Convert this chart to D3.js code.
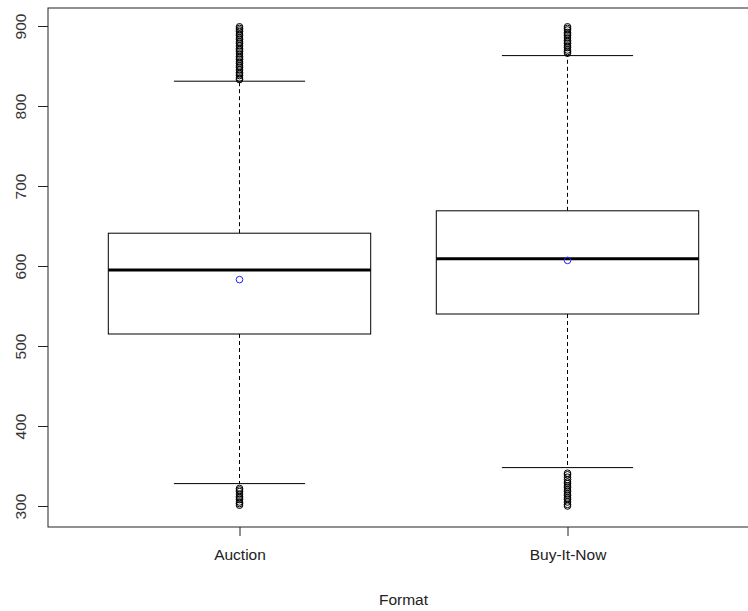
<!DOCTYPE html>
<html>
<head>
<meta charset="utf-8">
<script src="https://cdn.jsdelivr.net/npm/d3@7"></script>
<style>
  body { margin: 0; background: #fff; }
  svg { display: block; font-family: "Liberation Sans", Arial, sans-serif; }
</style>
</head>
<body>
<svg id="chart" width="748" height="611"></svg>
<script>
// Price distribution by listing format
const categories = ["Auction", "Buy-It-Now"];
const lowerWhisker = [328, 348];
const q1 = [515, 540];
const median = [595, 609];
const q3 = [641, 669];
const upperWhisker = [831, 863];
const means = [583, 607];
const outliersHigh = [
  [833, 835, 838, 840, 842, 845, 848, 850, 853, 855, 858, 860, 862, 865, 868, 870, 872, 875, 878, 880, 883, 885, 888, 890, 893, 895, 897, 899],
  [866, 868, 870, 873, 875, 878, 880, 882, 885, 888, 890, 892, 895, 897, 899]
];
const outliersLow = [
  [301, 303, 305, 308, 310, 312, 315, 318, 320, 322],
  [300, 302, 305, 308, 310, 313, 315, 318, 320, 323, 325, 328, 330, 333, 336, 339, 341]
];
const yTicks = [300, 400, 500, 600, 700, 800, 900];
const xTitle = "Format";

const svg = d3.select("#chart");
const frame = { left: 48, top: 8, right: 747, bottom: 527 };
const fontSize = 15.5;

const y = d3.scaleLinear().domain([300, 900]).range([506, 26]);
const x = d3.scaleLinear().domain([1, 2]).range([239.5, 567.5]);
const boxHalf = (x(2) - x(1)) * 0.4;

// Plot frame (right side runs off the page edge)
svg.append("rect")
  .attr("x", frame.left).attr("y", frame.top)
  .attr("width", frame.right + 5 - frame.left).attr("height", frame.bottom - frame.top)
  .attr("fill", "none").attr("stroke", "#222").attr("stroke-width", 1);

// Y axis
const yAxis = svg.append("g").attr("transform", `translate(${frame.left},0)`)
  .call(d3.axisLeft(y).tickValues(yTicks).tickSize(10).tickFormat(d3.format("d")));
yAxis.select(".domain").remove();
yAxis.selectAll(".tick line").attr("stroke", "#222");
yAxis.selectAll(".tick text")
  .attr("transform", "rotate(-90)")
  .attr("x", 0).attr("y", -22)
  .attr("dy", "0")
  .attr("text-anchor", "middle")
  .attr("font-size", fontSize)
  .attr("font-family", "Liberation Sans, Arial, sans-serif")
  .attr("fill", "#333");

// X axis
const xAxis = svg.append("g").attr("transform", `translate(0,${frame.bottom})`)
  .call(d3.axisBottom(x).tickValues([1, 2]).tickSize(9)
    .tickFormat((d, i) => categories[i]));
xAxis.select(".domain").remove();
xAxis.selectAll(".tick line").attr("stroke", "#222");
xAxis.selectAll(".tick text")
  .attr("y", 22).attr("dy", "0.71em")
  .attr("font-size", fontSize)
  .attr("font-family", "Liberation Sans, Arial, sans-serif")
  .attr("fill", "#222");

svg.append("text")
  .attr("x", (x(1) + x(2)) / 2).attr("y", 605)
  .attr("text-anchor", "middle")
  .attr("font-size", fontSize).attr("fill", "#222")
  .text(xTitle);

// Boxes
categories.forEach((c, i) => {
  const cx = x(i + 1);
  const g = svg.append("g");
  // dashed whiskers
  g.append("line").attr("x1", cx).attr("x2", cx)
    .attr("y1", y(q3[i])).attr("y2", y(upperWhisker[i]))
    .attr("stroke", "#000").attr("stroke-dasharray", "4,3");
  g.append("line").attr("x1", cx).attr("x2", cx)
    .attr("y1", y(q1[i])).attr("y2", y(lowerWhisker[i]))
    .attr("stroke", "#000").attr("stroke-dasharray", "4,3");
  // whisker caps
  [upperWhisker[i], lowerWhisker[i]].forEach(v => {
    g.append("line").attr("x1", cx - boxHalf / 2).attr("x2", cx + boxHalf / 2)
      .attr("y1", y(v)).attr("y2", y(v)).attr("stroke", "#000");
  });
  // box
  g.append("rect")
    .attr("x", cx - boxHalf).attr("width", boxHalf * 2)
    .attr("y", y(q3[i])).attr("height", y(q1[i]) - y(q3[i]))
    .attr("fill", "#fff").attr("stroke", "#000");
  // median
  g.append("line").attr("x1", cx - boxHalf).attr("x2", cx + boxHalf)
    .attr("y1", y(median[i])).attr("y2", y(median[i]))
    .attr("stroke", "#000").attr("stroke-width", 3);
  // outliers
  outliersHigh[i].concat(outliersLow[i]).forEach(v => {
    g.append("circle").attr("cx", cx).attr("cy", y(v)).attr("r", 3.3)
      .attr("fill", "none").attr("stroke", "#000").attr("stroke-width", 1);
  });
  // mean marker
  g.append("circle").attr("cx", cx).attr("cy", y(means[i])).attr("r", 3.3)
    .attr("fill", "none").attr("stroke", "#2222ff").attr("stroke-width", 1);
});
</script>
</body>
</html>
